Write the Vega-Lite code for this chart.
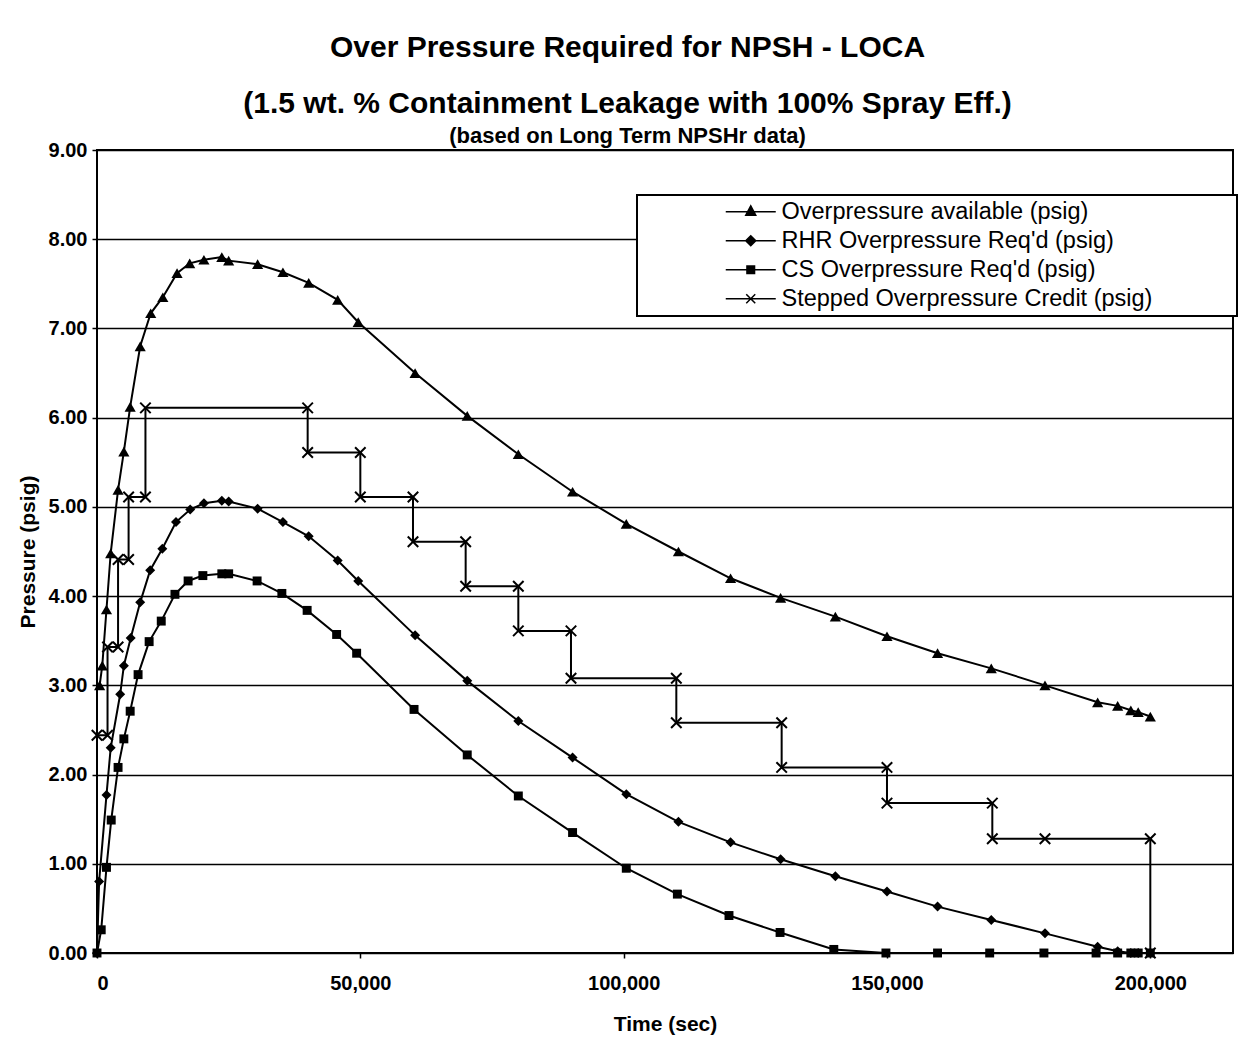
{
  "$schema": "https://vega.github.io/schema/vega-lite/v6.json",
  "autosize": "none",
  "width": 1136,
  "height": 803,
  "padding": {"left": 97, "top": 150, "right": 20, "bottom": 98},
  "background": "white",
  "title": {
    "text": ["Over Pressure Required for NPSH - LOCA", "(1.5 wt. % Containment Leakage with 100% Spray Eff.)"],
    "subtitle": "(based on Long Term NPSHr data)",
    "frame": "bounds",
    "anchor": "middle",
    "font": "Liberation Sans",
    "fontSize": 30,
    "fontWeight": "bold",
    "lineHeight": 56,
    "color": "black",
    "subtitleFont": "Liberation Sans",
    "subtitleFontSize": 22,
    "subtitleFontWeight": "bold",
    "subtitleColor": "black",
    "subtitlePadding": 7,
    "offset": -7
  },
  "datasets": {
    "d": [
      {"s": "Overpressure available (psig)", "i": 1, "t": 500, "p": 3.00},
      {"s": "Overpressure available (psig)", "i": 2, "t": 1000, "p": 3.22},
      {"s": "Overpressure available (psig)", "i": 3, "t": 1800, "p": 3.85},
      {"s": "Overpressure available (psig)", "i": 4, "t": 2600, "p": 4.48},
      {"s": "Overpressure available (psig)", "i": 5, "t": 4000, "p": 5.19},
      {"s": "Overpressure available (psig)", "i": 6, "t": 5100, "p": 5.62},
      {"s": "Overpressure available (psig)", "i": 7, "t": 6300, "p": 6.12},
      {"s": "Overpressure available (psig)", "i": 8, "t": 8200, "p": 6.80},
      {"s": "Overpressure available (psig)", "i": 9, "t": 10200, "p": 7.17},
      {"s": "Overpressure available (psig)", "i": 10, "t": 12500, "p": 7.35},
      {"s": "Overpressure available (psig)", "i": 11, "t": 15200, "p": 7.62},
      {"s": "Overpressure available (psig)", "i": 12, "t": 17600, "p": 7.73},
      {"s": "Overpressure available (psig)", "i": 13, "t": 20300, "p": 7.77},
      {"s": "Overpressure available (psig)", "i": 14, "t": 23700, "p": 7.80},
      {"s": "Overpressure available (psig)", "i": 15, "t": 25000, "p": 7.76},
      {"s": "Overpressure available (psig)", "i": 16, "t": 30500, "p": 7.72},
      {"s": "Overpressure available (psig)", "i": 17, "t": 35300, "p": 7.63},
      {"s": "Overpressure available (psig)", "i": 18, "t": 40200, "p": 7.51},
      {"s": "Overpressure available (psig)", "i": 19, "t": 45700, "p": 7.32},
      {"s": "Overpressure available (psig)", "i": 20, "t": 49600, "p": 7.07},
      {"s": "Overpressure available (psig)", "i": 21, "t": 60400, "p": 6.50},
      {"s": "Overpressure available (psig)", "i": 22, "t": 70300, "p": 6.02},
      {"s": "Overpressure available (psig)", "i": 23, "t": 80000, "p": 5.59},
      {"s": "Overpressure available (psig)", "i": 24, "t": 90300, "p": 5.17},
      {"s": "Overpressure available (psig)", "i": 25, "t": 100500, "p": 4.81},
      {"s": "Overpressure available (psig)", "i": 26, "t": 110400, "p": 4.50},
      {"s": "Overpressure available (psig)", "i": 27, "t": 120300, "p": 4.20},
      {"s": "Overpressure available (psig)", "i": 28, "t": 129800, "p": 3.98},
      {"s": "Overpressure available (psig)", "i": 29, "t": 140200, "p": 3.77},
      {"s": "Overpressure available (psig)", "i": 30, "t": 150000, "p": 3.55},
      {"s": "Overpressure available (psig)", "i": 31, "t": 159600, "p": 3.36},
      {"s": "Overpressure available (psig)", "i": 32, "t": 169800, "p": 3.19},
      {"s": "Overpressure available (psig)", "i": 33, "t": 180000, "p": 3.00},
      {"s": "Overpressure available (psig)", "i": 34, "t": 190000, "p": 2.81},
      {"s": "Overpressure available (psig)", "i": 35, "t": 193800, "p": 2.77},
      {"s": "Overpressure available (psig)", "i": 36, "t": 196300, "p": 2.72},
      {"s": "Overpressure available (psig)", "i": 37, "t": 197700, "p": 2.70},
      {"s": "Overpressure available (psig)", "i": 38, "t": 200000, "p": 2.65},

      {"s": "RHR Overpressure Req'd (psig)", "i": 1, "t": 0, "p": 0.00},
      {"s": "RHR Overpressure Req'd (psig)", "i": 2, "t": 400, "p": 0.80},
      {"s": "RHR Overpressure Req'd (psig)", "i": 3, "t": 1800, "p": 1.77},
      {"s": "RHR Overpressure Req'd (psig)", "i": 4, "t": 2600, "p": 2.30},
      {"s": "RHR Overpressure Req'd (psig)", "i": 5, "t": 4400, "p": 2.90},
      {"s": "RHR Overpressure Req'd (psig)", "i": 6, "t": 5100, "p": 3.22},
      {"s": "RHR Overpressure Req'd (psig)", "i": 7, "t": 6400, "p": 3.53},
      {"s": "RHR Overpressure Req'd (psig)", "i": 8, "t": 8200, "p": 3.93},
      {"s": "RHR Overpressure Req'd (psig)", "i": 9, "t": 10100, "p": 4.29},
      {"s": "RHR Overpressure Req'd (psig)", "i": 10, "t": 12400, "p": 4.53},
      {"s": "RHR Overpressure Req'd (psig)", "i": 11, "t": 15000, "p": 4.83},
      {"s": "RHR Overpressure Req'd (psig)", "i": 12, "t": 17700, "p": 4.97},
      {"s": "RHR Overpressure Req'd (psig)", "i": 13, "t": 20300, "p": 5.04},
      {"s": "RHR Overpressure Req'd (psig)", "i": 14, "t": 23700, "p": 5.07},
      {"s": "RHR Overpressure Req'd (psig)", "i": 15, "t": 25000, "p": 5.06},
      {"s": "RHR Overpressure Req'd (psig)", "i": 16, "t": 30500, "p": 4.98},
      {"s": "RHR Overpressure Req'd (psig)", "i": 17, "t": 35300, "p": 4.83},
      {"s": "RHR Overpressure Req'd (psig)", "i": 18, "t": 40200, "p": 4.67},
      {"s": "RHR Overpressure Req'd (psig)", "i": 19, "t": 45700, "p": 4.40},
      {"s": "RHR Overpressure Req'd (psig)", "i": 20, "t": 49600, "p": 4.17},
      {"s": "RHR Overpressure Req'd (psig)", "i": 21, "t": 60400, "p": 3.56},
      {"s": "RHR Overpressure Req'd (psig)", "i": 22, "t": 70300, "p": 3.05},
      {"s": "RHR Overpressure Req'd (psig)", "i": 23, "t": 80000, "p": 2.60},
      {"s": "RHR Overpressure Req'd (psig)", "i": 24, "t": 90300, "p": 2.19},
      {"s": "RHR Overpressure Req'd (psig)", "i": 25, "t": 100500, "p": 1.78},
      {"s": "RHR Overpressure Req'd (psig)", "i": 26, "t": 110400, "p": 1.47},
      {"s": "RHR Overpressure Req'd (psig)", "i": 27, "t": 120300, "p": 1.24},
      {"s": "RHR Overpressure Req'd (psig)", "i": 28, "t": 129800, "p": 1.05},
      {"s": "RHR Overpressure Req'd (psig)", "i": 29, "t": 140200, "p": 0.86},
      {"s": "RHR Overpressure Req'd (psig)", "i": 30, "t": 150000, "p": 0.69},
      {"s": "RHR Overpressure Req'd (psig)", "i": 31, "t": 159600, "p": 0.52},
      {"s": "RHR Overpressure Req'd (psig)", "i": 32, "t": 169800, "p": 0.37},
      {"s": "RHR Overpressure Req'd (psig)", "i": 33, "t": 180000, "p": 0.22},
      {"s": "RHR Overpressure Req'd (psig)", "i": 34, "t": 190000, "p": 0.07},
      {"s": "RHR Overpressure Req'd (psig)", "i": 35, "t": 193800, "p": 0.02},
      {"s": "RHR Overpressure Req'd (psig)", "i": 36, "t": 196300, "p": 0.00},
      {"s": "RHR Overpressure Req'd (psig)", "i": 37, "t": 197700, "p": 0.00},
      {"s": "RHR Overpressure Req'd (psig)", "i": 38, "t": 200000, "p": 0.00},

      {"s": "CS Overpressure Req'd (psig)", "i": 1, "t": 0, "p": 0.00},
      {"s": "CS Overpressure Req'd (psig)", "i": 2, "t": 800, "p": 0.26},
      {"s": "CS Overpressure Req'd (psig)", "i": 3, "t": 1800, "p": 0.96},
      {"s": "CS Overpressure Req'd (psig)", "i": 4, "t": 2700, "p": 1.49},
      {"s": "CS Overpressure Req'd (psig)", "i": 5, "t": 4000, "p": 2.08},
      {"s": "CS Overpressure Req'd (psig)", "i": 6, "t": 5100, "p": 2.40},
      {"s": "CS Overpressure Req'd (psig)", "i": 7, "t": 6300, "p": 2.71},
      {"s": "CS Overpressure Req'd (psig)", "i": 8, "t": 7800, "p": 3.12},
      {"s": "CS Overpressure Req'd (psig)", "i": 9, "t": 9900, "p": 3.49},
      {"s": "CS Overpressure Req'd (psig)", "i": 10, "t": 12200, "p": 3.72},
      {"s": "CS Overpressure Req'd (psig)", "i": 11, "t": 14800, "p": 4.02},
      {"s": "CS Overpressure Req'd (psig)", "i": 12, "t": 17300, "p": 4.17},
      {"s": "CS Overpressure Req'd (psig)", "i": 13, "t": 20100, "p": 4.23},
      {"s": "CS Overpressure Req'd (psig)", "i": 14, "t": 23700, "p": 4.25},
      {"s": "CS Overpressure Req'd (psig)", "i": 15, "t": 25000, "p": 4.25},
      {"s": "CS Overpressure Req'd (psig)", "i": 16, "t": 30400, "p": 4.17},
      {"s": "CS Overpressure Req'd (psig)", "i": 17, "t": 35100, "p": 4.03},
      {"s": "CS Overpressure Req'd (psig)", "i": 18, "t": 39900, "p": 3.84},
      {"s": "CS Overpressure Req'd (psig)", "i": 19, "t": 45500, "p": 3.57},
      {"s": "CS Overpressure Req'd (psig)", "i": 20, "t": 49300, "p": 3.36},
      {"s": "CS Overpressure Req'd (psig)", "i": 21, "t": 60200, "p": 2.73},
      {"s": "CS Overpressure Req'd (psig)", "i": 22, "t": 70300, "p": 2.22},
      {"s": "CS Overpressure Req'd (psig)", "i": 23, "t": 80000, "p": 1.76},
      {"s": "CS Overpressure Req'd (psig)", "i": 24, "t": 90300, "p": 1.35},
      {"s": "CS Overpressure Req'd (psig)", "i": 25, "t": 100500, "p": 0.95},
      {"s": "CS Overpressure Req'd (psig)", "i": 26, "t": 110200, "p": 0.66},
      {"s": "CS Overpressure Req'd (psig)", "i": 27, "t": 120000, "p": 0.42},
      {"s": "CS Overpressure Req'd (psig)", "i": 28, "t": 129700, "p": 0.23},
      {"s": "CS Overpressure Req'd (psig)", "i": 29, "t": 139900, "p": 0.04},
      {"s": "CS Overpressure Req'd (psig)", "i": 30, "t": 149800, "p": 0.00},
      {"s": "CS Overpressure Req'd (psig)", "i": 31, "t": 159600, "p": 0.00},
      {"s": "CS Overpressure Req'd (psig)", "i": 32, "t": 169500, "p": 0.00},
      {"s": "CS Overpressure Req'd (psig)", "i": 33, "t": 179800, "p": 0.00},
      {"s": "CS Overpressure Req'd (psig)", "i": 34, "t": 189700, "p": 0.00},
      {"s": "CS Overpressure Req'd (psig)", "i": 35, "t": 193800, "p": 0.00},
      {"s": "CS Overpressure Req'd (psig)", "i": 36, "t": 196300, "p": 0.00},
      {"s": "CS Overpressure Req'd (psig)", "i": 37, "t": 197700, "p": 0.00},
      {"s": "CS Overpressure Req'd (psig)", "i": 38, "t": 200000, "p": 0.00},

      {"s": "Stepped Overpressure Credit (psig)", "i": 1, "t": 0, "p": 2.44},
      {"s": "Stepped Overpressure Credit (psig)", "i": 2, "t": 2000, "p": 2.44},
      {"s": "Stepped Overpressure Credit (psig)", "i": 3, "t": 2000, "p": 3.43},
      {"s": "Stepped Overpressure Credit (psig)", "i": 4, "t": 4000, "p": 3.43},
      {"s": "Stepped Overpressure Credit (psig)", "i": 5, "t": 4000, "p": 4.41},
      {"s": "Stepped Overpressure Credit (psig)", "i": 6, "t": 6000, "p": 4.41},
      {"s": "Stepped Overpressure Credit (psig)", "i": 7, "t": 6000, "p": 5.11},
      {"s": "Stepped Overpressure Credit (psig)", "i": 8, "t": 9200, "p": 5.11},
      {"s": "Stepped Overpressure Credit (psig)", "i": 9, "t": 9200, "p": 6.11},
      {"s": "Stepped Overpressure Credit (psig)", "i": 10, "t": 40000, "p": 6.11},
      {"s": "Stepped Overpressure Credit (psig)", "i": 11, "t": 40000, "p": 5.61},
      {"s": "Stepped Overpressure Credit (psig)", "i": 12, "t": 50000, "p": 5.61},
      {"s": "Stepped Overpressure Credit (psig)", "i": 13, "t": 50000, "p": 5.11},
      {"s": "Stepped Overpressure Credit (psig)", "i": 14, "t": 60000, "p": 5.11},
      {"s": "Stepped Overpressure Credit (psig)", "i": 15, "t": 60000, "p": 4.61},
      {"s": "Stepped Overpressure Credit (psig)", "i": 16, "t": 70000, "p": 4.61},
      {"s": "Stepped Overpressure Credit (psig)", "i": 17, "t": 70000, "p": 4.11},
      {"s": "Stepped Overpressure Credit (psig)", "i": 18, "t": 80000, "p": 4.11},
      {"s": "Stepped Overpressure Credit (psig)", "i": 19, "t": 80000, "p": 3.61},
      {"s": "Stepped Overpressure Credit (psig)", "i": 20, "t": 90000, "p": 3.61},
      {"s": "Stepped Overpressure Credit (psig)", "i": 21, "t": 90000, "p": 3.08},
      {"s": "Stepped Overpressure Credit (psig)", "i": 22, "t": 110000, "p": 3.08},
      {"s": "Stepped Overpressure Credit (psig)", "i": 23, "t": 110000, "p": 2.58},
      {"s": "Stepped Overpressure Credit (psig)", "i": 24, "t": 130000, "p": 2.58},
      {"s": "Stepped Overpressure Credit (psig)", "i": 25, "t": 130000, "p": 2.08},
      {"s": "Stepped Overpressure Credit (psig)", "i": 26, "t": 150000, "p": 2.08},
      {"s": "Stepped Overpressure Credit (psig)", "i": 27, "t": 150000, "p": 1.68},
      {"s": "Stepped Overpressure Credit (psig)", "i": 28, "t": 170000, "p": 1.68},
      {"s": "Stepped Overpressure Credit (psig)", "i": 29, "t": 170000, "p": 1.28},
      {"s": "Stepped Overpressure Credit (psig)", "i": 30, "t": 180000, "p": 1.28},
      {"s": "Stepped Overpressure Credit (psig)", "i": 31, "t": 200000, "p": 1.28},
      {"s": "Stepped Overpressure Credit (psig)", "i": 32, "t": 200000, "p": 0.00}
    ]
  },
  "data": {"name": "d"},
  "encoding": {
    "x": {
      "field": "t", "type": "quantitative",
      "scale": {"domain": [0, 215700], "nice": false, "zero": false},
      "axis": {
        "title": "Time (sec)",
        "values": [0, 50000, 100000, 150000, 200000],
        "format": ",.0f",
        "grid": false,
        "domain": false,
        "tickSize": 5,
        "labelPadding": 15,
        "titlePadding": 20
      }
    },
    "y": {
      "field": "p", "type": "quantitative",
      "scale": {"domain": [0, 9], "nice": false},
      "axis": {
        "title": "Pressure (psig)",
        "values": [0, 1, 2, 3, 4, 5, 6, 7, 8, 9],
        "format": ".2f",
        "grid": true,
        "domain": false,
        "tickSize": 5,
        "labelPadding": 5,
        "titlePadding": 10
      }
    }
  },
  "layer": [
    {
      "mark": {"type": "line", "color": "black", "strokeWidth": 2},
      "encoding": {
        "detail": {"field": "s"},
        "order": {"field": "i", "type": "quantitative"}
      }
    },
    {
      "transform": [{"filter": "datum.s === 'Overpressure available (psig)'"}],
      "mark": {"type": "point", "shape": "triangle-up", "filled": true, "color": "black", "size": 125, "opacity": 1}
    },
    {
      "transform": [{"filter": "datum.s === \"RHR Overpressure Req'd (psig)\""}],
      "mark": {"type": "point", "shape": "diamond", "filled": true, "color": "black", "size": 100, "opacity": 1}
    },
    {
      "transform": [{"filter": "datum.s === \"CS Overpressure Req'd (psig)\""}],
      "mark": {"type": "point", "shape": "square", "filled": true, "color": "black", "size": 80, "opacity": 1}
    },
    {
      "transform": [{"filter": "datum.s === 'Stepped Overpressure Credit (psig)'"}],
      "mark": {"type": "point", "shape": "M-1,-1L1,1M-1,1L1,-1", "filled": false, "color": "black", "strokeWidth": 2, "size": 110, "opacity": 1}
    },
    {
      "transform": [{"filter": "datum.t < -1"}],
      "mark": {"type": "point", "filled": true, "fill": "black", "stroke": "black", "strokeWidth": 2, "opacity": 1},
      "encoding": {
        "shape": {
          "field": "s", "type": "nominal",
          "scale": {
            "domain": ["Overpressure available (psig)", "RHR Overpressure Req'd (psig)", "CS Overpressure Req'd (psig)", "Stepped Overpressure Credit (psig)"],
            "range": [
              "M-2.5,0H2.5M0,-0.6L0.5,0.35H-0.5Z",
              "M-2.5,0H2.5M0,-0.5L0.5,0L0,0.5L-0.5,0Z",
              "M-2.5,0H2.5M-0.38,-0.38H0.38V0.38H-0.38Z",
              "M-2.5,0H2.5M-0.45,-0.45L0.45,0.45M-0.45,0.45L0.45,-0.45"
            ]
          },
          "legend": {
            "title": " ",
            "titleOrient": "right",
            "titlePadding": 80,
            "orient": "none",
            "legendX": 540,
            "legendY": 45,
            "strokeColor": "black",
            "fillColor": "white",
            "padding": 5,
            "labelFont": "Liberation Sans",
            "labelFontSize": 23.5,
            "labelColor": "black",
            "labelLimit": 600,
            "symbolSize": 400,
            "symbolOffset": 97,
            "labelOffset": 19,
            "rowPadding": 4,
            "encode": {
              "symbols": {
                "update": {
                  "fill": {"value": "black"},
                  "stroke": {"value": "black"},
                  "strokeWidth": {"value": 2},
                  "opacity": {"value": 1}
                }
              }
            }
          }
        }
      }
    }
  ],
  "config": {
    "view": {"stroke": "black", "strokeWidth": 2},
    "legend": {"strokeWidth": 2},
    "axis": {
      "labelFont": "Liberation Sans",
      "labelFontSize": 20,
      "labelFontWeight": "bold",
      "labelColor": "black",
      "titleFont": "Liberation Sans",
      "titleFontSize": 21,
      "titleFontWeight": "bold",
      "titleColor": "black",
      "tickColor": "black",
      "tickWidth": 1.5,
      "gridColor": "black",
      "gridWidth": 1.6,
      "gridOpacity": 1
    }
  }
}
